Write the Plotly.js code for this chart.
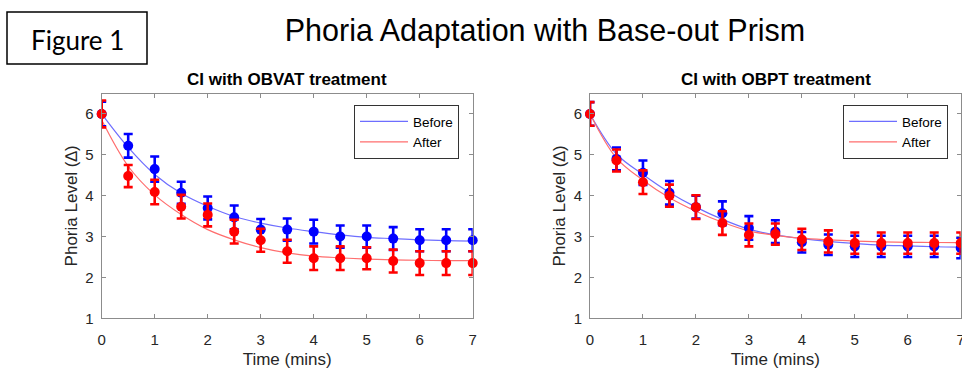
<!DOCTYPE html>
<html>
<head>
<meta charset="utf-8">
<script src="https://cdn.plot.ly/plotly-3.0.1.min.js"></script>
<style>html,body{margin:0;padding:0;background:#fff;}#chart{width:962px;height:371px;}</style>
</head>
<body>
<div id="chart"></div>
<script>
// Time points (mins)
const timeMins = [0, 0.5, 1, 1.5, 2, 2.5, 3, 3.5, 4, 4.5, 5, 5.5, 6, 6.5, 7];

// Left panel: CI with OBVAT treatment
const obvatBefore    = [6.0, 5.22, 4.65, 4.07, 3.70, 3.47, 3.17, 3.17, 3.12, 3.00, 3.00, 2.95, 2.91, 2.91, 2.91];
const obvatBeforeErr = [0.30, 0.29, 0.31, 0.27, 0.28, 0.29, 0.26, 0.27, 0.29, 0.27, 0.27, 0.28, 0.27, 0.27, 0.27];
const obvatAfter     = [6.0, 4.48, 4.09, 3.73, 3.53, 3.12, 2.91, 2.64, 2.47, 2.47, 2.47, 2.40, 2.35, 2.35, 2.35];
const obvatAfterErr  = [0.33, 0.27, 0.30, 0.29, 0.28, 0.29, 0.28, 0.28, 0.29, 0.29, 0.27, 0.28, 0.29, 0.29, 0.29];
const obvatBeforeFit = [6.0, 5.18, 4.52, 4.06, 3.74, 3.49, 3.33, 3.21, 3.12, 3.04, 2.98, 2.95, 2.92, 2.90, 2.89];
const obvatAfterFit  = [5.85, 4.72, 4.02, 3.54, 3.17, 2.92, 2.73, 2.60, 2.52, 2.48, 2.45, 2.43, 2.42, 2.41, 2.41];

// Right panel: CI with OBPT treatment
const obptBefore    = [6.0, 4.90, 4.56, 4.07, 3.72, 3.57, 3.21, 3.12, 2.86, 2.80, 2.76, 2.76, 2.76, 2.76, 2.72];
const obptBeforeErr = [0.29, 0.28, 0.30, 0.29, 0.28, 0.29, 0.29, 0.28, 0.25, 0.25, 0.26, 0.26, 0.26, 0.26, 0.25];
const obptAfter     = [6.0, 4.86, 4.33, 4.00, 3.72, 3.33, 3.04, 3.06, 2.93, 2.88, 2.84, 2.84, 2.84, 2.84, 2.84];
const obptAfterErr  = [0.29, 0.27, 0.29, 0.27, 0.29, 0.29, 0.28, 0.26, 0.26, 0.27, 0.26, 0.26, 0.26, 0.26, 0.26];
const obptBeforeFit = [6.0, 5.02, 4.52, 4.08, 3.72, 3.42, 3.18, 3.04, 2.95, 2.88, 2.83, 2.79, 2.77, 2.75, 2.74];
const obptAfterFit  = [6.0, 4.92, 4.38, 3.95, 3.62, 3.35, 3.14, 3.03, 2.96, 2.92, 2.89, 2.87, 2.86, 2.855, 2.85];

const seriesNames = ["Before", "After"];
const panelTitles = ["CI with OBVAT treatment", "CI with OBPT treatment"];
const mainTitle = "Phoria Adaptation with Base-out Prism";
const figureLabel = "Figure 1";
const xTitle = "Time (mins)";
const yTitle = "Phoria Level (\u2206)";
const xTicks = [0, 1, 2, 3, 4, 5, 6, 7];
const yTicks = [1, 2, 3, 4, 5, 6];

const BLUE = "#0000ff", RED = "#ff0000";
const BLUE_FIT = "rgb(110,110,255)", RED_FIT = "rgb(255,110,110)";
const FONT = "Liberation Sans, Arial, Helvetica, sans-serif";

function fitTrace(y, name, color, xa, ya, legend) {
  return {x: timeMins, y: y, name: name, type: "scatter", mode: "lines",
    line: {color: color, width: 1.2, shape: "spline", smoothing: 1},
    xaxis: xa, yaxis: ya, legend: legend, showlegend: true, hoverinfo: "skip"};
}
function ptsTrace(y, err, name, color, xa, ya) {
  return {x: timeMins, y: y, name: name, type: "scatter", mode: "markers",
    marker: {color: color, size: 10, symbol: "circle"},
    error_y: {type: "data", array: err, visible: true, color: color, thickness: 2.6, width: 4.5},
    xaxis: xa, yaxis: ya, showlegend: false, cliponaxis: false};
}

const data = [
  fitTrace(obvatBeforeFit, seriesNames[0], BLUE_FIT, "x", "y", "legend"),
  fitTrace(obvatAfterFit, seriesNames[1], RED_FIT, "x", "y", "legend"),
  ptsTrace(obvatBefore, obvatBeforeErr, seriesNames[0], BLUE, "x", "y"),
  ptsTrace(obvatAfter, obvatAfterErr, seriesNames[1], RED, "x", "y"),
  fitTrace(obptBeforeFit, seriesNames[0], BLUE_FIT, "x2", "y2", "legend2"),
  fitTrace(obptAfterFit, seriesNames[1], RED_FIT, "x2", "y2", "legend2"),
  ptsTrace(obptBefore, obptBeforeErr, seriesNames[0], BLUE, "x2", "y2"),
  ptsTrace(obptAfter, obptAfterErr, seriesNames[1], RED, "x2", "y2")
];

const W = 962, H = 371;
const yDom = [(H - 318.3) / H, (H - 93.5) / H];

function xAxis(domain, anchor) {
  return {domain: domain, anchor: anchor, range: [0, 7], tickmode: "array", tickvals: xTicks,
    showgrid: false, zeroline: false, showline: true, mirror: "ticks", linecolor: "#8c8c8c", linewidth: 1,
    ticks: "inside", ticklen: 4, tickcolor: "#8c8c8c", tickfont: {family: FONT, size: 15, color: "#262626"},
    ticklabelstandoff: 8, ticklabeloverflow: "allow",
    title: {text: xTitle, font: {family: FONT, size: 17, color: "#262626"}, standoff: 5}, fixedrange: true};
}
function yAxis(anchor) {
  return {domain: yDom, anchor: anchor, range: [1, 6.5], tickmode: "array", tickvals: yTicks,
    showgrid: false, zeroline: false, showline: true, mirror: "ticks", linecolor: "#8c8c8c", linewidth: 1,
    ticks: "inside", ticklen: 4, tickcolor: "#8c8c8c", tickfont: {family: FONT, size: 15, color: "#262626"},
    ticklabelstandoff: 4, ticklabeloverflow: "allow",
    title: {text: yTitle, font: {family: FONT, size: 17, color: "#262626"}, standoff: 3}, fixedrange: true};
}

const legendStyle = (xpx) => ({x: xpx / W, y: (H - 105) / H, xanchor: "left", yanchor: "top",
  bgcolor: "#ffffff", bordercolor: "#333333", borderwidth: 1,
  font: {family: FONT, size: 13.5, color: "#000000"}, tracegroupgap: 0, itemwidth: 48});

const layout = {
  width: W, height: H, autosize: false,
  margin: {l: 0, r: 0, t: 0, b: 0},
  paper_bgcolor: "#ffffff", plot_bgcolor: "#ffffff",
  title: {text: mainTitle, font: {family: FONT, size: 30.5, color: "#000000"},
    x: 545 / W, xanchor: "center", xref: "paper", y: 1 - 30 / H, yanchor: "middle", yref: "container"},
  xaxis: xAxis([101.7 / W, 472.7 / W], "y"),
  yaxis: yAxis("x"),
  xaxis2: xAxis([590 / W, 960.7 / W], "y2"),
  yaxis2: yAxis("x2"),
  legend: legendStyle(354),
  legend2: legendStyle(843),
  shapes: [
    {type: "rect", xref: "paper", yref: "paper", x0: 7 / W, x1: 147 / W, y0: 1 - 64 / H, y1: 1 - 12 / H,
     line: {color: "#000000", width: 1.5}, fillcolor: "rgba(0,0,0,0)"}
  ],
  annotations: [
    {text: figureLabel, xref: "paper", yref: "paper", x: 77 / W, y: 1 - 40 / H, xanchor: "center", yanchor: "middle",
     showarrow: false, font: {family: "Lato, Open Sans, sans-serif", size: 26, color: "#000000"}},
    {text: "<b>" + panelTitles[0] + "</b>", xref: "paper", yref: "paper", x: 287.2 / W, y: 1 - 79 / H,
     xanchor: "center", yanchor: "middle", showarrow: false, font: {family: FONT, size: 17, color: "#000000"}},
    {text: "<b>" + panelTitles[1] + "</b>", xref: "paper", yref: "paper", x: 776 / W, y: 1 - 79 / H,
     xanchor: "center", yanchor: "middle", showarrow: false, font: {family: FONT, size: 17, color: "#000000"}}
  ]
};

Plotly.newPlot("chart", data, layout, {displayModeBar: false, staticPlot: true});
</script>
</body>
</html>
